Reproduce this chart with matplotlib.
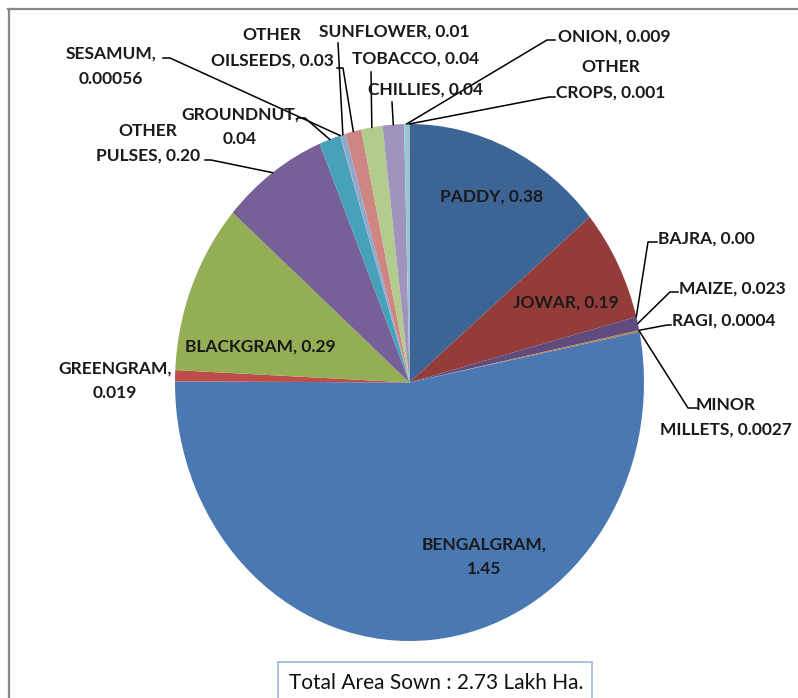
import matplotlib
matplotlib.use("Agg")
import matplotlib.pyplot as plt
import numpy as np
from matplotlib.lines import Line2D
from matplotlib.patches import Rectangle

# crop-wise area sown (lakh ha), in the order the slices run clockwise from 12 o'clock
crops = ["PADDY", "JOWAR", "BAJRA", "MAIZE", "RAGI", "MINOR MILLETS",
         "BENGALGRAM", "GREENGRAM", "BLACKGRAM", "OTHER PULSES", "GROUNDNUT",
         "SESAMUM", "SUNFLOWER", "OTHER OILSEEDS", "TOBACCO", "CHILLIES",
         "ONION", "OTHER CROPS"]
areas = [0.38, 0.19, 0.0, 0.023, 0.0004, 0.0027,
         1.45, 0.019, 0.29, 0.20, 0.04,
         0.00056, 0.01, 0.03, 0.04, 0.04,
         0.009, 0.001]
decimals = [2, 2, 2, 3, 4, 4, 2, 3, 2, 2, 2, 5, 2, 2, 2, 2, 3, 3]
total_text = "Total Area Sown : 2.73 Lakh Ha."

colors = ["#3C6494", "#933C3A", "#779441", "#604B7E", "#3A8499", "#C47634",
          "#4A78B2", "#BE4D4A", "#93AE55", "#775F98", "#46A2BA", "#F28F44",
          "#8EA9D1", "#CF8683", "#B3CB8C", "#A094BD", "#8ECADC", "#F8AE74"]

W, H = 798, 698
LINE_GAP = 25  # px between the two lines of a wrapped label

# label layout in image pixels: x, y, ha, wrap after first word, leader points (label side)
layout = {
    "PADDY": (492, 197, "center", False, None),
    "JOWAR": (566, 303, "center", False, None),
    "BAJRA": (658, 239, "left", False, [(657, 242), (648, 242)]),
    "MAIZE": (679, 289, "left", False, [(678, 292), (670, 292)]),
    "RAGI": (672, 321, "left", False, [(671, 325), (667, 325)]),
    "MINOR MILLETS": (726, 417, "center", True, [(697, 408), (688, 408)]),
    "BENGALGRAM": (484, 557, "center", True, None),
    "GREENGRAM": (115, 381, "center", True, None),
    "BLACKGRAM": (260, 347, "center", False, None),
    "OTHER PULSES": (148, 143, "center", True, [(205, 160), (211, 160)]),
    "GROUNDNUT": (240, 127, "center", True, [(298, 118), (305, 118)]),
    "SESAMUM": (111, 66, "center", True, [(163, 58), (170, 58)]),
    "SUNFLOWER": (394, 32, "center", False, [(338, 43)]),
    "OTHER OILSEEDS": (272, 48, "center", True, [(337, 68), (343, 68)]),
    "TOBACCO": (416, 59, "center", False, [(371, 72)]),
    "CHILLIES": (425, 90, "center", False, [(392, 102)]),
    "ONION": (558, 37, "left", False, [(555, 40), (547, 40)]),
    "OTHER CROPS": (611, 80, "center", True, [(555, 97), (549, 97)]),
}

plt.rcParams["font.family"] = ["Lato", "DejaVu Sans"]

fig = plt.figure(figsize=(W / 100, H / 100), dpi=100)
fig.patch.set_facecolor("white")


def fx(x, y):
    return x / W, 1 - y / H


# pie occupies an ellipse of the picture
pie_left, pie_top, pie_right, pie_bottom = 175, 124, 644, 641
ax = fig.add_axes([pie_left / W, 1 - pie_bottom / H,
                   (pie_right - pie_left) / W, (pie_bottom - pie_top) / H])
wedges, _ = ax.pie(areas, colors=colors, startangle=90, counterclock=False,
                   radius=1, wedgeprops=dict(linewidth=0))
ax.set_xlim(-1, 1)
ax.set_ylim(-1, 1)
ax.set_aspect("auto")
ax.axis("off")

for name, val, d, w in zip(crops, areas, decimals, wedges):
    x, y, ha, wrap, pts = layout[name]
    txt = f"{name}, {val:.{d}f}"
    lines = txt.split(" ", 1) if wrap else [txt]
    y0 = y - LINE_GAP * (len(lines) - 1) / 2
    for i, line in enumerate(lines):
        fig.text(*fx(x, y0 + i * LINE_GAP), line, ha=ha, va="center",
                 fontsize=12.5, fontweight="bold", color="#1a1a1a")
    if pts is not None:
        mid = np.deg2rad((w.theta1 + w.theta2) / 2)
        dx, dy = ax.transData.transform((np.cos(mid), np.sin(mid)))
        path = pts + [(dx, H - dy)]
        xs = [p[0] / W for p in path]
        ys = [1 - p[1] / H for p in path]
        fig.add_artist(Line2D(xs, ys, color="black", lw=1.1))

# outer chart frame (cropped at right and bottom)
fig.add_artist(Line2D([8 / W, 1], [1 - 9 / H, 1 - 9 / H], color="#888888", lw=1.6))
fig.add_artist(Line2D([9 / W, 9 / W], [0, 1 - 9 / H], color="#888888", lw=1.6))

# total box at the bottom
fig.add_artist(Rectangle(fx(278, 705), 314 / W, 43 / H, transform=fig.transFigure,
                         facecolor="white", edgecolor="#9DB8E0", lw=1.2))
fig.text(*fx(436, 683), total_text, ha="center", va="center",
         fontsize=15, color="#111111")

fig.savefig("out.png", dpi=100)
